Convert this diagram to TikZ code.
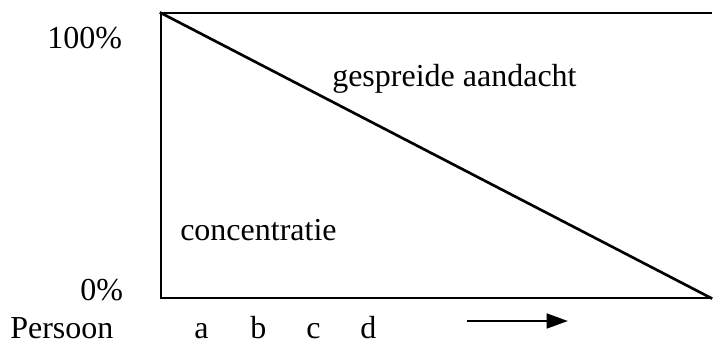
\documentclass[tikz,border=0pt]{standalone}
\usepackage{fontspec}
\setmainfont{Liberation Serif}
\usetikzlibrary{arrows.meta}
\begin{document}
\begin{tikzpicture}[x=0.75pt,y=-0.75pt,
  lbl/.style={inner sep=0pt,anchor=base west,font=\fontsize{24}{28}\selectfont},
  frame/.style={line width=2pt,line cap=rect},
  axarrow/.style={line width=2pt,-{Triangle[length=16pt,width=11pt]}}]
\useasboundingbox (0,0) rectangle (713,343);
\coordinate (tl) at (161,13);
\coordinate (tr) at (711,13);
\coordinate (bl) at (161,298);
\coordinate (br) at (711,298);
\draw[frame] (tr) -- (tl) -- (bl) -- (br);
\draw[frame] (tl) -- (br);
\node[lbl] (p100) at (47,48) {100\%};
\node[lbl] (p0) at (80,300) {0\%};
\node[lbl] (pers) at (10,338) {Persoon};
\node[lbl] (a) at (194,338) {a};
\node[lbl] (b) at (250,338) {b};
\node[lbl] (c) at (306,338) {c};
\node[lbl] (d) at (360,338) {d};
\node[lbl] (gesp) at (332,86) {gespreide aandacht};
\node[lbl] (conc) at (180,240) {concentratie};
\coordinate (as) at (467,321);
\coordinate (ae) at (568,321);
\draw[axarrow] (as) -- (ae);
\end{tikzpicture}
\end{document}
